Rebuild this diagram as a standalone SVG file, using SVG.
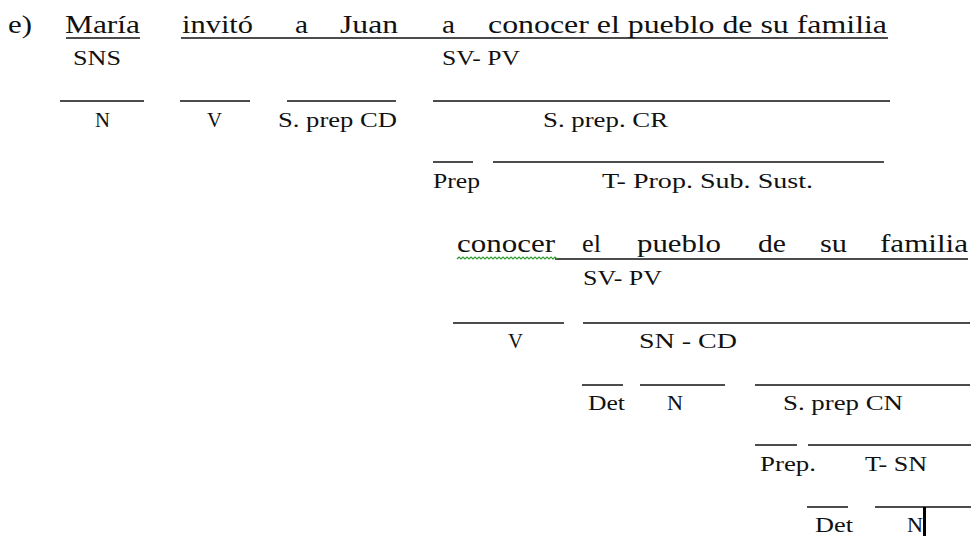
<svg xmlns="http://www.w3.org/2000/svg" width="972" height="536" viewBox="0 0 972 536">
<style>
.m{font-family:"Liberation Serif","Times New Roman",serif;font-size:25px;fill:#111}
.l{font-family:"Liberation Serif","Times New Roman",serif;font-size:20px;fill:#111}
.b{stroke:#111;stroke-width:1.7;fill:none}
</style>
<rect width="972" height="536" fill="#fff"/>
<g id="connectors">
  <line class="b" x1="66" y1="38" x2="140" y2="38"/>
  <line class="b" x1="181" y1="38" x2="888" y2="38"/>
  <line class="b" x1="60" y1="101" x2="144" y2="101"/>
  <line class="b" x1="180" y1="101" x2="250" y2="101"/>
  <line class="b" x1="287" y1="101" x2="396" y2="101"/>
  <line class="b" x1="433" y1="101" x2="890" y2="101"/>
  <line class="b" x1="433" y1="162" x2="473" y2="162"/>
  <line class="b" x1="493" y1="162" x2="884" y2="162"/>
  <line class="b" x1="555" y1="259" x2="968" y2="259"/>
  <line class="b" x1="453" y1="323" x2="564" y2="323"/>
  <line class="b" x1="583" y1="323" x2="970" y2="323"/>
  <line class="b" x1="582" y1="385" x2="623" y2="385"/>
  <line class="b" x1="640" y1="385" x2="725" y2="385"/>
  <line class="b" x1="755" y1="385" x2="970" y2="385"/>
  <line class="b" x1="755" y1="445" x2="797" y2="445"/>
  <line class="b" x1="808" y1="445" x2="971" y2="445"/>
  <line class="b" x1="807" y1="507" x2="848" y2="507"/>
  <line class="b" x1="875" y1="507" x2="971" y2="507"/>
</g>
<g id="label-e"><text class="m" x="8" y="33" textLength="24" lengthAdjust="spacingAndGlyphs">e)</text></g>
<g id="sentence">
  <text class="m" x="65" y="33" textLength="75" lengthAdjust="spacingAndGlyphs">María</text>
  <text class="m" x="182" y="33" textLength="71" lengthAdjust="spacingAndGlyphs">invitó</text>
  <text class="m" x="295" y="33" textLength="13" lengthAdjust="spacingAndGlyphs">a</text>
  <text class="m" x="340" y="33" textLength="58" lengthAdjust="spacingAndGlyphs">Juan</text>
  <text class="m" x="442" y="33" textLength="13" lengthAdjust="spacingAndGlyphs">a</text>
  <text class="m" x="488" y="33" textLength="399" lengthAdjust="spacingAndGlyphs">conocer el pueblo de su familia</text>
</g>
<g id="n-sns"><text class="l" x="73" y="65" textLength="48" lengthAdjust="spacingAndGlyphs">SNS</text></g>
<g id="n-svpv"><text class="l" x="442" y="65" textLength="78" lengthAdjust="spacingAndGlyphs">SV- PV</text></g>
<g id="n-n1"><text class="l" x="95" y="127" textLength="15" lengthAdjust="spacingAndGlyphs">N</text></g>
<g id="n-v1"><text class="l" x="207" y="127" textLength="15" lengthAdjust="spacingAndGlyphs">V</text></g>
<g id="n-sprepcd"><text class="l" x="278" y="127" textLength="119" lengthAdjust="spacingAndGlyphs">S. prep CD</text></g>
<g id="n-sprepcr"><text class="l" x="543" y="127" textLength="125" lengthAdjust="spacingAndGlyphs">S. prep. CR</text></g>
<g id="n-prep1"><text class="l" x="433" y="188" textLength="47" lengthAdjust="spacingAndGlyphs">Prep</text></g>
<g id="n-tprop"><text class="l" x="602" y="188" textLength="211" lengthAdjust="spacingAndGlyphs">T- Prop. Sub. Sust.</text></g>
<g id="sub-sentence">
  <path d="M457 259 l2 -2 l2 2 l2 -2 l2 2 l2 -2 l2 2 l2 -2 l2 2 l2 -2 l2 2 l2 -2 l2 2 l2 -2 l2 2 l2 -2 l2 2 l2 -2 l2 2 l2 -2 l2 2 l2 -2 l2 2 l2 -2 l2 2 l2 -2 l2 2 l2 -2 l2 2 l2 -2 l2 2 l2 -2 l2 2 l2 -2 l2 2 l2 -2 l2 2 l2 -2 l2 2 l2 -2 l2 2 l2 -2 l2 2 l2 -2 l2 2 l2 -2 l2 2 l2 -2 l2 2 l2 -2 l2 2" fill="none" stroke="#2f9a2f" stroke-width="1.2"/>
  <text class="m" x="457" y="252" textLength="98" lengthAdjust="spacingAndGlyphs">conocer</text>
  <text class="m" x="582" y="252" textLength="19" lengthAdjust="spacingAndGlyphs">el</text>
  <text class="m" x="637" y="252" textLength="84" lengthAdjust="spacingAndGlyphs">pueblo</text>
  <text class="m" x="758" y="252" textLength="28" lengthAdjust="spacingAndGlyphs">de</text>
  <text class="m" x="820" y="252" textLength="27" lengthAdjust="spacingAndGlyphs">su</text>
  <text class="m" x="880" y="252" textLength="88" lengthAdjust="spacingAndGlyphs">familia</text>
</g>
<g id="n-svpv2"><text class="l" x="583" y="285" textLength="79" lengthAdjust="spacingAndGlyphs">SV- PV</text></g>
<g id="n-v2"><text class="l" x="508" y="348" textLength="15" lengthAdjust="spacingAndGlyphs">V</text></g>
<g id="n-sncd"><text class="l" x="639" y="348" textLength="98" lengthAdjust="spacingAndGlyphs">SN - CD</text></g>
<g id="n-det1"><text class="l" x="588" y="410" textLength="37" lengthAdjust="spacingAndGlyphs">Det</text></g>
<g id="n-n2"><text class="l" x="667" y="410" textLength="16" lengthAdjust="spacingAndGlyphs">N</text></g>
<g id="n-sprepcn"><text class="l" x="783" y="410" textLength="120" lengthAdjust="spacingAndGlyphs">S. prep CN</text></g>
<g id="n-prep2"><text class="l" x="760" y="471" textLength="56" lengthAdjust="spacingAndGlyphs">Prep.</text></g>
<g id="n-tsn"><text class="l" x="865" y="471" textLength="62" lengthAdjust="spacingAndGlyphs">T- SN</text></g>
<g id="n-det2"><text class="l" x="815" y="532" textLength="38" lengthAdjust="spacingAndGlyphs">Det</text></g>
<g id="n-n3">
  <text class="l" x="907" y="532" textLength="16" lengthAdjust="spacingAndGlyphs">N</text>
  <rect x="923" y="507" width="3" height="29" fill="#000"/>
</g>
</svg>
